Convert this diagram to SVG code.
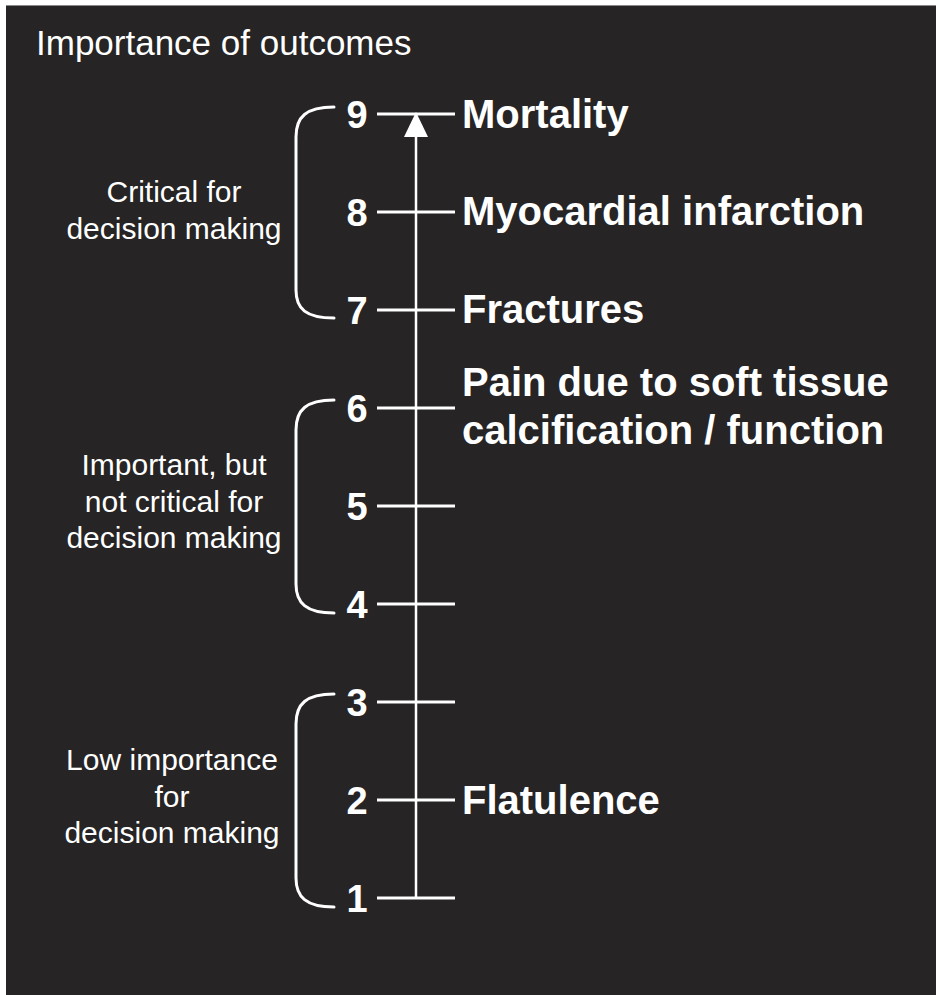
<svg xmlns="http://www.w3.org/2000/svg" width="936" height="995" viewBox="0 0 936 995">
  <style>
    .lbl { font-family: "Liberation Sans", Arial, sans-serif; fill: #ffffff; }
    .title { font-size: 35px; }
    .side { font-size: 30px; text-anchor: middle; }
    .num { font-size: 38px; font-weight: bold; text-anchor: middle; }
    .out { font-size: 40px; font-weight: bold; }
    .tick { stroke: #ffffff; stroke-width: 3; fill: none; }
    .axis { stroke: #ffffff; stroke-width: 2.5; fill: none; }
    .brace { stroke: #ffffff; stroke-width: 3; fill: none; stroke-linecap: round; }
  </style>
  <rect x="0" y="0" width="936" height="995" fill="#ffffff"/>
  <rect x="6" y="5" width="930" height="990" fill="#262424"/>
  <line x1="6" y1="5.5" x2="936" y2="5.5" stroke="#8a8a8a" stroke-width="1"/>

  <g id="title"><text class="lbl title" x="36" y="55">Importance of outcomes</text></g>

  <g id="connectors">
    <line class="axis" x1="416" y1="135" x2="416" y2="898"/>
    <polygon points="416,112 404,137 428,137" fill="#ffffff"/>
    <line class="tick" x1="377" y1="114" x2="455" y2="114"/>
    <line class="tick" x1="377" y1="212" x2="455" y2="212"/>
    <line class="tick" x1="377" y1="310" x2="455" y2="310"/>
    <line class="tick" x1="377" y1="408" x2="455" y2="408"/>
    <line class="tick" x1="377" y1="506" x2="455" y2="506"/>
    <line class="tick" x1="377" y1="604" x2="455" y2="604"/>
    <line class="tick" x1="377" y1="702" x2="455" y2="702"/>
    <line class="tick" x1="377" y1="800" x2="455" y2="800"/>
    <line class="tick" x1="377" y1="898" x2="455" y2="898"/>
  </g>

  <g id="numbers">
    <text class="lbl num" x="357" y="128">9</text>
    <text class="lbl num" x="357" y="226">8</text>
    <text class="lbl num" x="357" y="324">7</text>
    <text class="lbl num" x="357" y="422">6</text>
    <text class="lbl num" x="357" y="520">5</text>
    <text class="lbl num" x="357" y="618">4</text>
    <text class="lbl num" x="357" y="716">3</text>
    <text class="lbl num" x="357" y="814">2</text>
    <text class="lbl num" x="357" y="912">1</text>
  </g>

  <g id="group-critical">
    <path class="brace" d="M334,107 C306,107 296,117 296,137 L296,290 C296,309 306,318 334,318"/>
    <text class="lbl side" x="174" y="202">Critical for</text>
    <text class="lbl side" x="174" y="239">decision making</text>
  </g>
  <g id="group-important">
    <path class="brace" d="M334,400 C306,400 296,410 296,430 L296,584 C296,603 306,613 334,613"/>
    <text class="lbl side" x="174" y="475">Important, but</text>
    <text class="lbl side" x="174" y="512">not critical for</text>
    <text class="lbl side" x="174" y="548">decision making</text>
  </g>
  <g id="group-low">
    <path class="brace" d="M334,694 C306,694 296,704 296,724 L296,878 C296,897 306,907 334,907"/>
    <text class="lbl side" x="172" y="770">Low importance</text>
    <text class="lbl side" x="172" y="807">for</text>
    <text class="lbl side" x="172" y="843">decision making</text>
  </g>

  <g id="outcome-mortality"><text class="lbl out" x="462" y="128">Mortality</text></g>
  <g id="outcome-mi"><text class="lbl out" x="462" y="225">Myocardial infarction</text></g>
  <g id="outcome-fractures"><text class="lbl out" x="462" y="323">Fractures</text></g>
  <g id="outcome-pain">
    <text class="lbl out" x="462" y="396">Pain due to soft tissue</text>
    <text class="lbl out" x="462" y="444">calcification / function</text>
  </g>
  <g id="outcome-flatulence"><text class="lbl out" x="462" y="814">Flatulence</text></g>
</svg>
